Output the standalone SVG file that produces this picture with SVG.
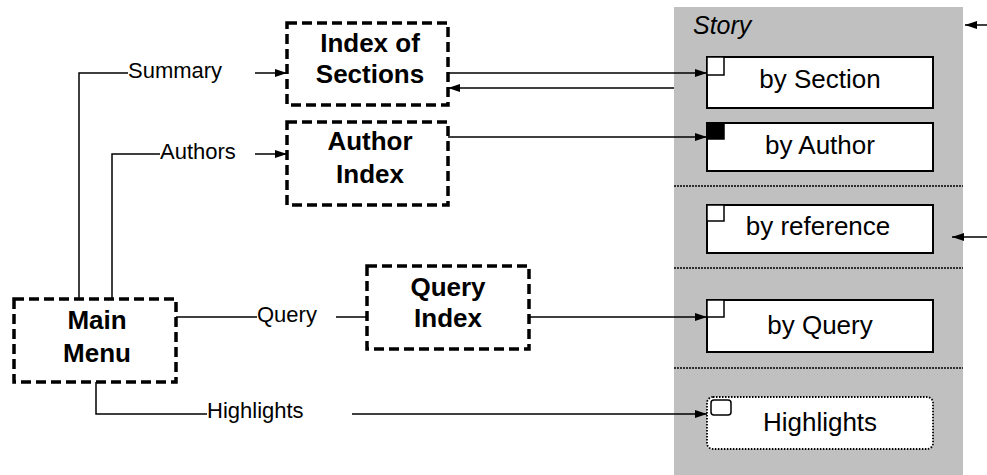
<svg xmlns="http://www.w3.org/2000/svg" width="987" height="475" viewBox="0 0 987 475">
<style>
.dbox{fill:#fff;stroke:#000;stroke-width:3.5;stroke-dasharray:10,5}
.sbox{fill:#fff;stroke:#000;stroke-width:2}
.bt{font-family:"Liberation Sans",Arial,sans-serif;font-weight:bold;font-size:26px;text-anchor:middle}
.lt{font-family:"Liberation Sans",Arial,sans-serif;font-size:22px}
.st{font-family:"Liberation Sans",Arial,sans-serif;font-size:26px;text-anchor:middle}
.ln{fill:none;stroke:#000;stroke-width:1.5}
.dot{stroke:#000;stroke-width:1.5;stroke-dasharray:2,1}
</style>
<defs>
<marker id="ah" viewBox="0 0 12 8" refX="12" refY="4" markerWidth="12" markerHeight="8" markerUnits="userSpaceOnUse" orient="auto">
<path d="M0,0 L12,4 L0,8 Z" fill="#000"/>
</marker>
</defs>
<g id="story">
<rect x="674" y="7" width="289" height="468" fill="#c0c0c0"/>
<text x="693" y="34" font-family="Liberation Sans,Arial,sans-serif" font-style="italic" font-size="25">Story</text>
<line class="dot" x1="674" y1="186" x2="963" y2="186"/>
<line class="dot" x1="674" y1="268" x2="963" y2="268"/>
<line class="dot" x1="674" y1="368" x2="963" y2="368"/>
</g>
<g id="by-section">
<rect class="sbox" x="707" y="57" width="226" height="51"/>
<rect x="707" y="57" width="17" height="18" fill="#fff" stroke="#000" stroke-width="1.5"/>
<text class="st" x="820" y="88">by Section</text>
</g>
<g id="by-author">
<rect class="sbox" x="707" y="123" width="226" height="48"/>
<rect x="707" y="123" width="17" height="16" fill="#000" stroke="#000" stroke-width="1.5"/>
<text class="st" x="820" y="154">by Author</text>
</g>
<g id="by-reference">
<rect class="sbox" x="707" y="205" width="226" height="48"/>
<rect x="707" y="205" width="17" height="16" fill="#fff" stroke="#000" stroke-width="1.5"/>
<text class="st" x="818" y="235">by reference</text>
</g>
<g id="by-query">
<rect class="sbox" x="707" y="300" width="226" height="52"/>
<rect x="707" y="300" width="17" height="17" fill="#fff" stroke="#000" stroke-width="1.5"/>
<text class="st" x="820" y="334">by Query</text>
</g>
<g id="highlights-box">
<rect x="707" y="397" width="226" height="52" rx="6" fill="#fff" stroke="#000" stroke-width="1.8" stroke-dasharray="1.5,1.5"/>
<rect x="711" y="400" width="20" height="15" rx="3" fill="#fff" stroke="#000" stroke-width="1.5"/>
<text class="st" x="820" y="431">Highlights</text>
</g>
<g id="index-of-sections">
<rect class="dbox" x="287" y="23" width="161" height="82"/>
<text class="bt" x="370" y="52">Index of</text>
<text class="bt" x="370" y="83">Sections</text>
</g>
<g id="author-index">
<rect class="dbox" x="287" y="122" width="161" height="83"/>
<text class="bt" x="370" y="150">Author</text>
<text class="bt" x="370" y="183">Index</text>
</g>
<g id="query-index">
<rect class="dbox" x="367" y="266" width="162" height="83"/>
<text class="bt" x="448" y="296">Query</text>
<text class="bt" x="448" y="327">Index</text>
</g>
<g id="main-menu">
<rect class="dbox" x="14" y="299" width="162" height="83"/>
<text class="bt" x="97" y="329">Main</text>
<text class="bt" x="97" y="362">Menu</text>
</g>
<g id="connectors">
<polyline class="ln" points="79,299 79,73 128,73"/>
<text class="lt" x="128" y="78">Summary</text>
<line class="ln" x1="255" y1="73" x2="287" y2="73" marker-end="url(#ah)"/>
<polyline class="ln" points="112,299 112,154 160,154"/>
<text class="lt" x="160" y="159">Authors</text>
<line class="ln" x1="255" y1="154" x2="287" y2="154" marker-end="url(#ah)"/>
<line class="ln" x1="176" y1="317" x2="257" y2="317"/>
<text class="lt" x="257" y="322">Query</text>
<line class="ln" x1="336" y1="317" x2="367" y2="317"/>
<polyline class="ln" points="96,382 96,414 207,414"/>
<text class="lt" x="207" y="418">Highlights</text>
<line class="ln" x1="352" y1="414" x2="707" y2="414" marker-end="url(#ah)"/>
<line class="ln" x1="448" y1="73" x2="707" y2="73" marker-end="url(#ah)"/>
<line class="ln" x1="674" y1="88" x2="448" y2="88" marker-end="url(#ah)"/>
<line class="ln" x1="448" y1="137" x2="707" y2="137" marker-end="url(#ah)"/>
<line class="ln" x1="529" y1="317" x2="707" y2="317" marker-end="url(#ah)"/>
<line class="ln" x1="987" y1="25" x2="965" y2="25" marker-end="url(#ah)"/>
<line class="ln" x1="987" y1="237" x2="952" y2="237" marker-end="url(#ah)"/>
</g>
</svg>
